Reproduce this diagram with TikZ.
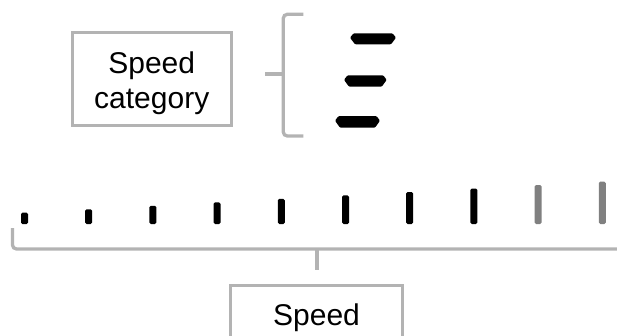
\documentclass[tikz,border=0pt]{standalone}
\usepackage{fontspec}
\setmainfont{Liberation Sans}
\definecolor{boxgrey}{RGB}{179,179,179}
\definecolor{tickgrey}{RGB}{128,128,128}
\newcommand{\catlines}{\vtop{\halign{\hfil##\hfil\cr Speed\cr category\cr}}}
\begin{document}
\begin{tikzpicture}[x=1pt,y=-1pt,
  lbl/.style={draw=boxgrey, line width=3pt, inner xsep=0pt, inner ysep=0pt,
    font=\fontsize{30}{35}\selectfont, anchor=base},
  bracepath/.style={draw=boxgrey, line width=3.3pt, rounded corners=4pt},
  tickbar/.style={fill=#1, rounded corners=1.5pt},
  dashbar/.style={fill=black, rounded corners=1pt}]
\useasboundingbox (0,0) rectangle (617,335);

% label boxes
\node[lbl, minimum width=158.5pt, text height=41.3pt, text depth=51.7pt] (cat) at (151.75,73.3) {\catlines};
\node[lbl, minimum width=172pt, text height=39.5pt, text depth=60pt] (spd) at (316.5,325) {Speed};

% top brace
\coordinate (tbtop) at (303.3,14.3);
\coordinate (tbbot) at (303.3,136);
\coordinate (tbtip) at (265,74);
\draw[bracepath] (tbtop) -- (283.3,14.3) -- (283.3,136) -- (tbbot);
\draw[draw=boxgrey, line width=3.3pt] (tbtip) -- (283.3,74);

% speed category dashes
\foreach \xa/\xb/\ya/\yb in {350/396/33.3/44.3, 344/386.7/75.3/86.7, 335/380/116/127.7}{
  \fill[dashbar] (\xa,{\ya+0.4*(\yb-\ya)}) -- (\xa+3.5,\ya) -- (\xb-3.5,\ya) --
    (\xb,{\ya+0.4*(\yb-\ya)}) -- (\xb-5,\yb) -- (\xa+5,\yb) -- cycle;
}

% speed ticks
\foreach \i in {0,...,9}{
  \pgfmathsetmacro{\xc}{24.5+64.2*\i}
  \pgfmathsetmacro{\yt}{212.7-3.45*\i}
  \ifnum\i<8
    \fill[tickbar=black] (\xc-3.5,\yt) rectangle (\xc+3.5,224);
  \else
    \fill[tickbar=tickgrey] (\xc-3.5,\yt) rectangle (\xc+3.5,224);
  \fi
}

% bottom brace
\coordinate (bbleft) at (12.5,228);
\coordinate (bbright) at (630,249);
\coordinate (bbtip) at (317,269.5);
\draw[bracepath] (bbleft) -- (12.5,249) -- (bbright);
\draw[draw=boxgrey, line width=3.3pt] (317,249) -- (bbtip);
\end{tikzpicture}
\end{document}
